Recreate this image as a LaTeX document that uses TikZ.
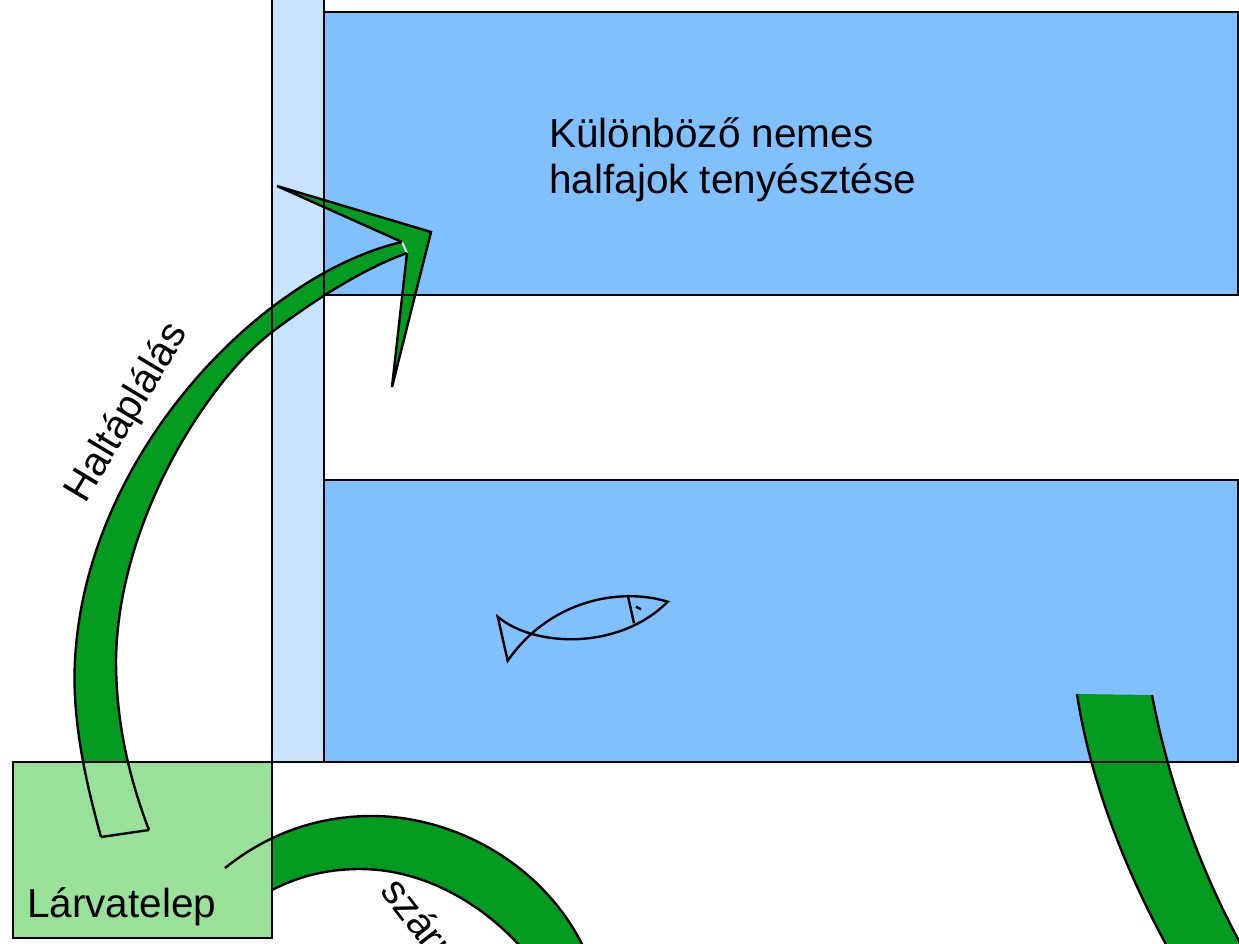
\documentclass[tikz,border=0pt]{standalone}
\usepackage{fontspec}
\setmainfont{Liberation Sans}
\definecolor{pond}{HTML}{80C0FF}
\definecolor{channel}{HTML}{C8E3FF}
\definecolor{flow}{HTML}{049C20}
\definecolor{larva}{HTML}{99E199}
\tikzset{
  edge/.style={draw=black,line width=2.4pt,line join=miter},
  label/.style={inner sep=0pt,font=\fontsize{40.5}{46}\selectfont,text=black},
}
% shapes in reference pixels
\def\pathA{(101,837) .. controls (88,790) and (75,735) .. (74.5,680) .. controls (74.5,465) and (258,275) .. (402,242)}
\def\pathB{(407,253) .. controls (360,270) and (312,302) .. (272,332) .. controls (208,381) and (118,520) .. (116,660) .. controls (116,720) and (128,775) .. (149,830)}
\def\pathC{(225,868) .. controls (270,832) and (320,816) .. (372,816) .. controls (450,816) and (540,860) .. (583,946)}
\def\pathD{(520,946) .. controls (478,900) and (420,869) .. (360,869) .. controls (328,869) and (299,876) .. (272,890)}
\def\pathE{(1077,694) .. controls (1090,780) and (1125,870) .. (1168,948)}
\def\pathF{(1243,948) .. controls (1205,880) and (1170,790) .. (1152,695)}
\begin{document}
\begin{tikzpicture}[x=1pt,y=-1pt]
\useasboundingbox (0,0) rectangle (1239,944);
\clip (0,0) rectangle (1239,944);
% fills
\fill[white] (0,0) rectangle (1239,944);
\fill[channel] (272,-5) rectangle (324,762);
\fill[pond] (324,12) rectangle (1238,295);
\fill[pond] (324,480) rectangle (1238,762);
% green fills
\fill[flow] \pathA -- \pathB -- cycle;
\fill[flow] (402,242) -- (277,186) -- (431,232) -- (392,387) -- (407,253) -- cycle;
\draw[channel!60!white,line width=2pt] (402,242) -- (407,253);
\fill[flow] \pathC -- \pathD -- cycle;
\fill[flow] \pathE -- \pathF -- cycle;
\fill[larva] (13,762) rectangle (272,938);
% outlines
\draw[edge] (272,-5) -- (272,762) (324,-5) -- (324,762) (272,762) -- (324,762);
\draw[edge] (324,12) rectangle (1238,295);
\draw[edge] (324,480) rectangle (1238,762);
\draw[edge] (13,762) rectangle (272,938);
\draw[edge] \pathA;
\draw[edge] (101,837) -- (149,830);
\draw[edge] \pathB;
\draw[edge] (402,242) -- (277,186) -- (431,232) -- (392,387) -- (407,253);
\draw[edge] \pathC;
\draw[edge] \pathD;
\draw[edge] \pathE;
\draw[edge] \pathF;
% fish
\draw[edge] (507.7,660.7) .. controls (550,600) and (620,587) .. (667.7,601.7)
  .. controls (620,650) and (535,648) .. (497.7,616.7) -- cycle;
\draw[edge] (627.7,595) -- (634,623.3);
\draw[edge] (636,606.7) -- (641,609.3);
% labels
\node[label,anchor=north west,align=left] (title) at (549,117) {Különböző nemes\\halfajok tenyésztése};
\node[label,anchor=base west] (larvatelep) at (27,917) {Lárvatelep};
\node[label,anchor=base west,rotate=59] (haltap) at (85,504.5) {Haltáplálás};
\node[label,anchor=base west,rotate=-52] (szarm) at (379,891) {szárm};
\end{tikzpicture}
\end{document}
